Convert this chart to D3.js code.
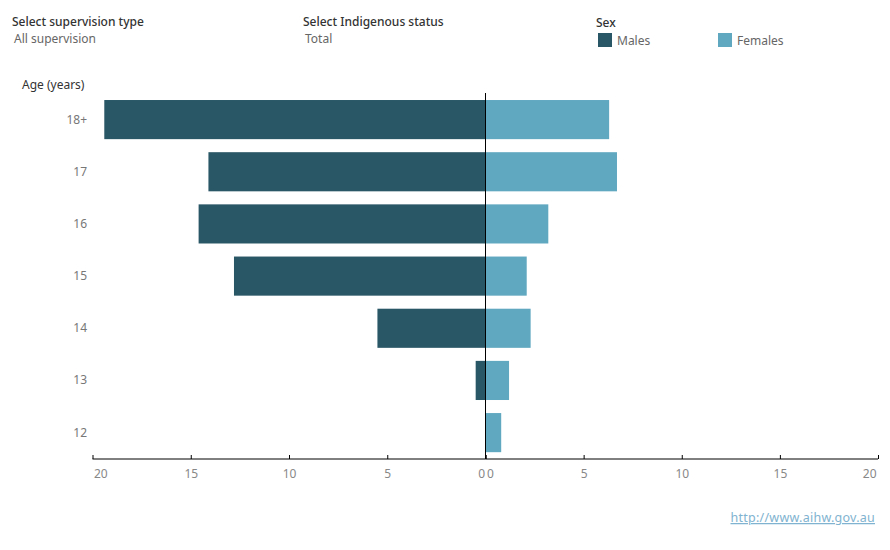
<!DOCTYPE html>
<html><head><meta charset="utf-8">
<script src="https://cdn.jsdelivr.net/npm/d3@7"></script>
<style>
body{margin:0;background:#fff;}
svg{display:block;font-family:"Noto Sans","Open Sans",sans-serif;}
</style></head>
<body><svg id="c" width="890" height="550"></svg>
<script>
const ages = ["18+","17","16","15","14","13","12"];
const males = [19.4, 14.1, 14.6, 12.8, 5.5, 0.5, 0];
const females = [6.3, 6.7, 3.2, 2.1, 2.3, 1.2, 0.8];
const ticks = [0,5,10,15,20];
const maleColor = "#295766", femaleColor = "#60a8c0";

const svg = d3.select("#c");
const zeroX = 485.5;
const xL = d3.scaleLinear().domain([0,20]).range([zeroX, 92.5]);
const xR = d3.scaleLinear().domain([0,20]).range([zeroX, 878]);
const y = d3.scaleBand().domain(ages).range([93.5, 458.7]).paddingInner(0.25).paddingOuter(0.125);

// header
const hdr = [
  {t:"Select supervision type", x:12, y:26, c:"#333", w:600},
  {t:"All supervision", x:14, y:43, c:"#666", w:400},
  {t:"Select Indigenous status", x:303, y:26, c:"#333", w:600},
  {t:"Total", x:305, y:43, c:"#666", w:400},
  {t:"Sex", x:596, y:27, c:"#333", w:600},
  {t:"Age (years)", x:22, y:89, c:"#333", w:400}
];
svg.selectAll("text.hdr").data(hdr).join("text").attr("class","hdr")
  .attr("x",d=>d.x).attr("y",d=>d.y).attr("fill",d=>d.c)
  .attr("font-size",12).attr("font-weight",d=>d.w===600?500:400).text(d=>d.t);

const leg = [{t:"Males",c:maleColor,x:598},{t:"Females",c:femaleColor,x:718}];
const lg = svg.selectAll("g.leg").data(leg).join("g").attr("class","leg");
lg.append("rect").attr("x",d=>d.x).attr("y",33).attr("width",14).attr("height",14).attr("fill",d=>d.c);
lg.append("text").attr("x",d=>d.x+19).attr("y",45).attr("font-size",12).attr("fill","#666").text(d=>d.t);

// bars
svg.selectAll("rect.m").data(ages).join("rect").attr("class","m")
  .attr("x",(d,i)=>xL(males[i])).attr("y",d=>y(d))
  .attr("width",(d,i)=>zeroX-xL(males[i])).attr("height",y.bandwidth()).attr("fill",maleColor);
svg.selectAll("rect.f").data(ages).join("rect").attr("class","f")
  .attr("x",zeroX).attr("y",d=>y(d))
  .attr("width",(d,i)=>xR(females[i])-zeroX).attr("height",y.bandwidth()).attr("fill",femaleColor);

// zero line
svg.append("line").attr("x1",zeroX).attr("x2",zeroX).attr("y1",93).attr("y2",459)
  .attr("stroke","#000").attr("stroke-width",1);

// y labels
svg.selectAll("text.yl").data(ages).join("text").attr("class","yl")
  .attr("x",87).attr("y",d=>y(d)+y.bandwidth()/2+4).attr("text-anchor","end")
  .attr("font-size",12).attr("fill","#777").text(d=>d);

// axes
const axY = 459;
function drawAxis(scale, side){
  const g = svg.append("g").attr("transform",`translate(0,${axY})`)
    .call(d3.axisBottom(scale).tickValues(ticks).tickSize(4).tickSizeOuter(0).tickFormat(d3.format("d")));
  g.select(".domain").attr("stroke","#000").attr("d", `M${scale.range()[0]},0H${scale.range()[1]}`);
  g.selectAll(".tick line").attr("stroke","#000").attr("y1",0).attr("y2",-4);
  g.selectAll(".tick text").attr("fill","#888").attr("font-size",12)
    .attr("font-family","'Noto Sans','Open Sans',sans-serif").attr("y",10).attr("dy","0.71em");
  g.selectAll(".tick").filter(d=>d===0).select("text")
    .attr("text-anchor", side==="L"?"end":"start").attr("x", side==="L"?-1:1);
  g.selectAll(".tick").filter(d=>d===20).select("text")
    .attr("text-anchor", side==="L"?"start":"end").attr("x", side==="L"?1:-2);
}
drawAxis(xL,"L");
drawAxis(xR,"R");

// link
svg.append("text").attr("x",875).attr("y",522).attr("text-anchor","end")
  .attr("font-size",12.5).attr("letter-spacing",0.25).attr("fill","#7fb3d0").attr("text-decoration","underline")
  .text("http://www.aihw.gov.au");
</script></body></html>
